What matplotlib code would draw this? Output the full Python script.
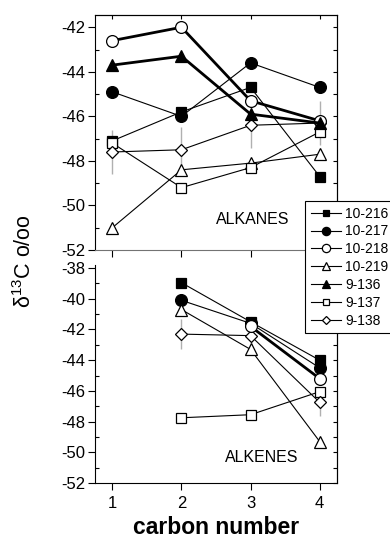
import numpy as np
import matplotlib
matplotlib.use('Agg')
import matplotlib.pyplot as plt
from matplotlib.ticker import MultipleLocator

plt.rcParams['font.family'] = ['Liberation Sans', 'DejaVu Sans']
plt.rcParams['mathtext.fontset'] = 'custom'
plt.rcParams['mathtext.rm'] = 'Liberation Sans'
plt.rcParams['axes.unicode_minus'] = False

######
carbon = [1, 2, 3, 4]
series = ['10-216', '10-217', '10-218', '10-219', '9-136', '9-137', '9-138']

# alkanes (top panel)
alk_10_216 = [-47.1, -45.8, -44.7, -48.7]
alk_10_217 = [-44.9, -46.0, -43.6, -44.7]
alk_10_218 = [-42.6, -42.0, -45.3, -46.2]
alk_10_219 = [-51.0, -48.4, -48.1, -47.7]
alk_9_136 = [-43.7, -43.3, -45.9, -46.3]
alk_9_137 = [-47.2, -49.2, -48.3, -46.7]
alk_9_138 = [-47.6, -47.5, -46.4, -46.3]
alk_9_138_err = [1.0, 1.0, 1.0, 1.0]

# alkenes (bottom panel)
carbon_ene = [2, 3, 4]
ene_10_216 = [-38.95, -41.5, -44.0]
ene_10_217 = [-40.1, -41.6, -44.5]
ene_10_218 = [np.nan, -41.8, -45.2]
ene_10_219 = [-40.7, -43.3, -49.3]
ene_9_137 = [-47.75, -47.55, -46.05]
ene_9_138 = [-42.3, -42.4, -46.75]
ene_9_138_err = [1.0, 0.6, 0.9]
######

sty = {
    '10-216': dict(marker='s', mfc='k', ms=7),
    '10-217': dict(marker='o', mfc='k', ms=8.5),
    '10-218': dict(marker='o', mfc='w', ms=8.5),
    '10-219': dict(marker='^', mfc='w', ms=9),
    '9-136': dict(marker='^', mfc='k', ms=9),
    '9-137': dict(marker='s', mfc='w', ms=7),
    '9-138': dict(marker='D', mfc='w', ms=6.5),
}
thick = ['10-218', '9-136']

fig = plt.figure(figsize=(3.9, 5.38), dpi=100)
ax1 = fig.add_axes([0.2436, 0.5353, 0.6205, 0.4368])
ax2 = fig.add_axes([0.2436, 0.1022, 0.6205, 0.4052])

def draw(ax, x, data, err):
    # error bars first, in gray
    ax.errorbar(x, data['9-138'], yerr=err, fmt='none', ecolor='#b0b0b0',
                elinewidth=1, capsize=0, zorder=1)
    for name in series:
        if name not in data:
            continue
        lw = 2.0 if name in thick else 0.8
        z = 4 if name in thick else 3
        ax.plot(x, data[name], color='k', lw=lw, mec='k', mew=0.9,
                zorder=z, **sty[name])

top = {'10-216': alk_10_216, '10-217': alk_10_217, '10-218': alk_10_218,
       '10-219': alk_10_219, '9-136': alk_9_136, '9-137': alk_9_137,
       '9-138': alk_9_138}
bot = {'10-216': ene_10_216, '10-217': ene_10_217, '10-218': ene_10_218,
       '10-219': ene_10_219, '9-137': ene_9_137, '9-138': ene_9_138}

draw(ax1, carbon, top, alk_9_138_err)
draw(ax2, carbon_ene, bot, ene_9_138_err)

ax1.set_ylim(-52, -41.45)
ax2.set_ylim(-52, -37.8)
for ax in (ax1, ax2):
    ax.set_xlim(0.75, 4.25)
    ax.set_xticks(carbon)
    ax.yaxis.set_major_locator(MultipleLocator(2))
    ax.yaxis.set_minor_locator(MultipleLocator(1))
    ax.tick_params(axis='y', which='major', direction='out', length=5,
                   width=0.8, labelsize=12, pad=2)
    ax.tick_params(axis='y', which='minor', direction='in', length=3, width=0.8)
    ax.tick_params(axis='x', which='major', direction='out', length=5,
                   width=0.8, labelsize=12, pad=4)
    for s in ax.spines.values():
        s.set_linewidth(0.8)

# right-side ticks drawn inward
for ax in (ax1, ax2):
    r = ax.secondary_yaxis('right')
    r.yaxis.set_major_locator(MultipleLocator(1))
    r.tick_params(direction='in', length=3, width=0.8, labelright=False)
    r.spines['right'].set_linewidth(0.8)
t = ax1.secondary_xaxis('top')
t.set_xticks(carbon)
t.tick_params(direction='in', length=3, width=0.8, labeltop=False)
t.spines['top'].set_linewidth(0.8)

ax1.tick_params(axis='x', labelbottom=False)
ax1.spines['bottom'].set_color('0.45')
ax2.spines['top'].set_visible(False)

ax1.text(0.653, 0.128, 'ALKANES', transform=ax1.transAxes, fontsize=11.5,
         ha='center', va='center')
ax2.text(0.69, 0.119, 'ALKENES', transform=ax2.transAxes, fontsize=11.5,
         ha='center', va='center')

fig.text(25 / 390, 1 - 261 / 538, r'δ$^{13}$C o/oo', rotation=90,
         fontsize=15.5, ha='center', va='center')
fig.text(0.553, 1 - 527 / 538, 'carbon number', fontsize=16.5,
         fontweight='bold', ha='center', va='center')

handles = [ax1.lines[i] for i in range(len(series))]
leg = fig.legend(handles, series, loc='upper left',
                 bbox_to_anchor=(0.782, 0.6264), fontsize=10,
                 markerscale=0.7, handlelength=2.2, handletextpad=0.3,
                 labelspacing=0.28, borderpad=0.4, borderaxespad=0,
                 fancybox=False, framealpha=1, edgecolor='k')
leg.get_frame().set_linewidth(0.8)
for h in leg.legend_handles:
    h.set_linewidth(0.8)

fig.savefig('out.png', dpi=100)
